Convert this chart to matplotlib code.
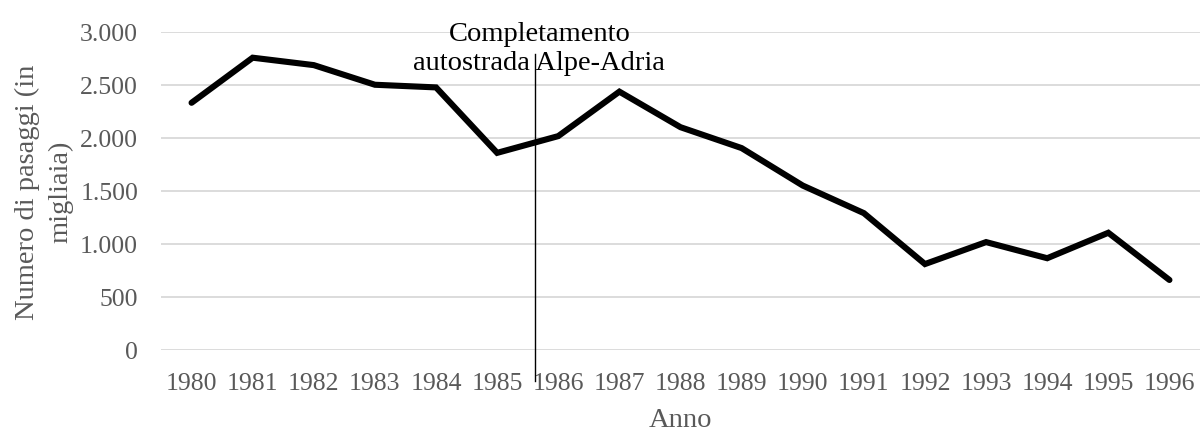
import matplotlib
matplotlib.use("Agg")
import matplotlib.pyplot as plt
from matplotlib.ticker import FuncFormatter

years = [1980, 1981, 1982, 1983, 1984, 1985, 1986, 1987, 1988,
         1989, 1990, 1991, 1992, 1993, 1994, 1995, 1996]
passaggi = [2330, 2755, 2685, 2500, 2475, 1858, 2016, 2435, 2100,
            1903, 1550, 1290, 810, 1017, 865, 1105, 660]
y_ticks = [0, 500, 1000, 1500, 2000, 2500, 3000]
event_year = 1985.62
event_label = "Completamento\nautostrada Alpe-Adria"
y_title = "Numero di pasaggi (in\nmigliaia)"
x_title = "Anno"

plt.rcParams['font.family'] = ['Liberation Serif', 'DejaVu Serif']

W, H = 1200, 431
fig = plt.figure(figsize=(12, 4.31), dpi=100)
ax = fig.add_axes([161 / W, 1 - 351 / H, 1039 / W, (351 - 32.7) / H])

ax.plot(years, passaggi, color='black', lw=4.4, solid_joinstyle='miter',
        solid_capstyle='round', zorder=3)

ax.set_xlim(years[0] - 0.5, years[-1] + 0.5)
ax.set_ylim(0, 3000)
ax.set_yticks(y_ticks)
ax.set_xticks(years)
ax.set_xticklabels([str(y) for y in years])
ax.yaxis.set_major_formatter(FuncFormatter(lambda v, p: f"{int(v):,}".replace(",", ".")))
ax.grid(axis='y', color='#d9d9d9', lw=1.3)
ax.set_axisbelow(True)
for s in ax.spines.values():
    s.set_visible(False)
ax.tick_params(axis='both', length=0, labelsize=18.5, colors='#595959')
ax.tick_params(axis='y', pad=16.5)
ax.tick_params(axis='x', pad=15.5)

# event vertical line
ax.plot([event_year, event_year], [2790, -292], color='black', lw=1.0,
        clip_on=False, zorder=4)
ax.text(event_year + 0.07, 2650, event_label, ha='center', va='baseline',
        fontsize=20.5, color='black', linespacing=1.18, zorder=5)

fig.text(44 / W, 1 - 192 / H, y_title, rotation=90, ha='center', va='center',
         fontsize=20.5, color='#595959', linespacing=1.4)
fig.text(680 / W, 4 / H, x_title, ha='center', va='baseline',
         fontsize=20.5, color='#595959')

fig.savefig("out.png", dpi=100)
